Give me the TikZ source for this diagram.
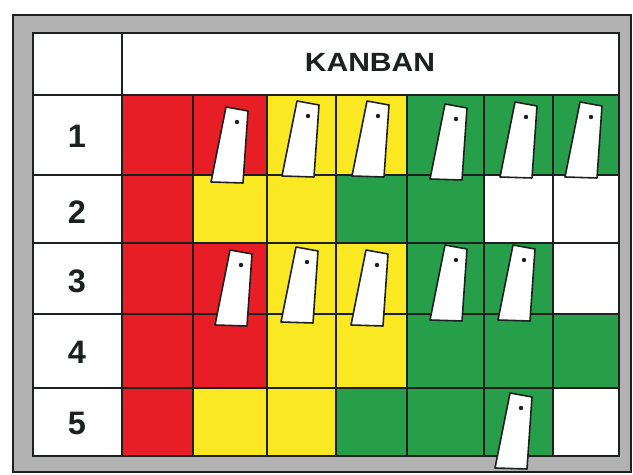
\documentclass[tikz,border=0pt]{standalone}
\usepackage{fontspec}
\setmainfont{Liberation Sans}
\definecolor{kR}{RGB}{232,30,38}
\definecolor{kY}{RGB}{250,232,34}
\definecolor{kG}{RGB}{38,158,74}
\definecolor{kW}{RGB}{255,255,255}
\definecolor{frameg}{RGB}{178,178,178}
\definecolor{ink}{RGB}{28,32,30}
\tikzset{
  gridline/.style={draw=ink, line width=1.1pt},
  framel/.style={draw=ink, line width=1.2pt},
  cardshape/.style={fill=white, draw=ink, line width=0.9pt, line join=round},
  rowlabel/.style={font=\fontsize{18.5}{22}\selectfont\bfseries, text=ink, inner sep=0pt},
  titlelabel/.style={font=\fontsize{15}{18}\selectfont\bfseries, text=ink, inner sep=0pt}
}
\newcommand\kanrow[9]{%
  \foreach \xa/\xb/\cc in {122/193/#3,193/267/#4,267/336/#5,336/407/#6,407/484/#7,484/553/#8,553/619/#9}
    \fill[\cc] (\xa,#1) rectangle (\xb,#2);}
\newcommand\kcard[2]{%
  \begin{scope}[shift={(#1,#2)}]
    \filldraw[cardshape] (0,0) -- (22,4) -- (17,76) -- (-15,75) -- cycle;
    \fill[ink] (11,15) circle (2.2);
  \end{scope}}
\begin{document}
\begin{tikzpicture}[x=0.02cm,y=-0.02cm]
\useasboundingbox (0,0) rectangle (633,475);
\fill[white] (0,0) rectangle (633,475);
% frame
\fill[frameg] (13,15) rectangle (631,472);
\draw[framel] (13,15) rectangle (631,472);
\fill[white] (33,33) rectangle (619,456);
% cells
\kanrow{95}{175}{kR}{kR}{kY}{kY}{kG}{kG}{kG}
\kanrow{175}{243}{kR}{kY}{kY}{kG}{kG}{kW}{kW}
\kanrow{243}{314}{kR}{kR}{kY}{kY}{kG}{kG}{kW}
\kanrow{314}{388}{kR}{kR}{kY}{kY}{kG}{kG}{kG}
\kanrow{388}{456}{kR}{kY}{kY}{kG}{kG}{kG}{kW}
% grid
\foreach \yy in {95,175,243,314,388}
  \draw[gridline] (33,\yy) -- (619,\yy);
\draw[gridline] (122,33) -- (122,456);
\foreach \xx in {193,267,336,407,484,553}
  \draw[gridline] (\xx,95) -- (\xx,456);
\draw[framel] (33,33) rectangle (619,456);
% texts
\node[titlelabel] (title) at (370,62) {\scalebox{1.14}[1]{KANBAN}};
\node[rowlabel] (r1) at (77,136) {1};
\node[rowlabel] (r2) at (77,212) {2};
\node[rowlabel] (r3) at (77,281) {3};
\node[rowlabel] (r4) at (77,352) {4};
\node[rowlabel] (r5) at (77,423) {5};
% cards row 1
\kcard{226}{107}
\kcard{297}{101}
\kcard{367}{101}
\kcard{445}{104}
\kcard{515}{102}
\kcard{580}{102}
% cards row 3
\kcard{230}{250}
\kcard{296}{247}
\kcard{366}{250}
\kcard{445}{245}
\kcard{513}{245}
% card row 5
\kcard{510}{393}
\end{tikzpicture}
\end{document}
